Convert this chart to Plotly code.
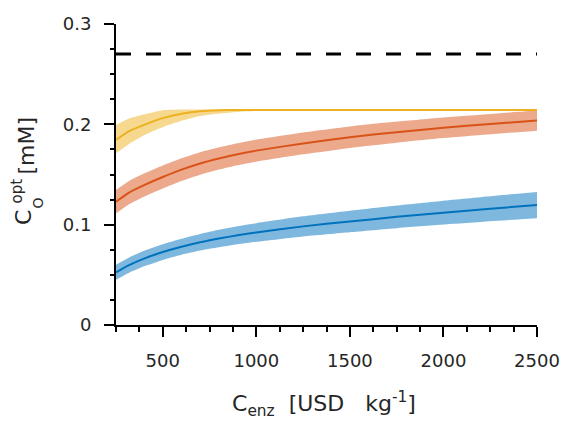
import plotly.graph_objects as go

# ---------------- data ----------------
x_cost = [250, 320, 400, 500, 600, 700, 800, 900, 1000, 1250, 1500, 1750, 2000, 2250, 2500]

blue_mid = [0.0525, 0.0597, 0.0662, 0.0727, 0.0780, 0.0825, 0.0862, 0.0894, 0.0922, 0.0983, 0.1032, 0.1078, 0.1120, 0.1159, 0.1195]
blue_lo = [0.0450, 0.0521, 0.0585, 0.0649, 0.0700, 0.0742, 0.0775, 0.0804, 0.0829, 0.0883, 0.0925, 0.0965, 0.1001, 0.1034, 0.1065]
blue_hi = [0.0600, 0.0673, 0.0739, 0.0805, 0.0860, 0.0908, 0.0949, 0.0984, 0.1015, 0.1083, 0.1139, 0.1191, 0.1239, 0.1284, 0.1325]

orange_mid = [0.1229, 0.1320, 0.1394, 0.1475, 0.1548, 0.1610, 0.1660, 0.1702, 0.1738, 0.1810, 0.1872, 0.1922, 0.1966, 0.2003, 0.2037]
orange_lo = [0.1112, 0.1204, 0.1279, 0.1361, 0.1435, 0.1498, 0.1549, 0.1592, 0.1628, 0.1701, 0.1765, 0.1817, 0.1863, 0.1902, 0.1937]
orange_hi = [0.1346, 0.1436, 0.1509, 0.1589, 0.1661, 0.1722, 0.1771, 0.1812, 0.1848, 0.1919, 0.1979, 0.2027, 0.2069, 0.2104, 0.2137]

yellow_mid = [0.1844, 0.1932, 0.1995, 0.2062, 0.2106, 0.2131, 0.2140, 0.2143, 0.2143, 0.2143, 0.2143, 0.2143, 0.2143, 0.2143, 0.2143]
yellow_lo = [0.1711, 0.1805, 0.1890, 0.1973, 0.2035, 0.2082, 0.2108, 0.2124, 0.2132, 0.2137, 0.2137, 0.2137, 0.2137, 0.2137, 0.2137]
yellow_hi = [0.1994, 0.2058, 0.2098, 0.2140, 0.2147, 0.2147, 0.2147, 0.2147, 0.2147, 0.2147, 0.2147, 0.2147, 0.2147, 0.2147, 0.2147]

limit_value = 0.27

x_ticks = [500, 1000, 1500, 2000, 2500]
x_ticklabels = ["500", "1000", "1500", "2000", "2500"]
y_ticks = [0, 0.1, 0.2, 0.3]
y_ticklabels = ["0", "0.1", "0.2", "0.3"]

# ---------------- styling ----------------
W, H = 563, 423
L, R, T, B = 116, 26, 24, 98
FONT = "DejaVu Sans, Liberation Sans, Arial, sans-serif"
TXT = "#262626"

series = [
    (blue_lo, blue_mid, blue_hi, "#0072BD", "rgba(0,114,189,0.5)"),
    (orange_lo, orange_mid, orange_hi, "#D95319", "rgba(217,83,25,0.5)"),
    (yellow_lo, yellow_mid, yellow_hi, "#EDB120", "rgba(237,177,32,0.5)"),
]

fig = go.Figure()
for lo, mid, hi, lc, fc in series:
    fig.add_trace(go.Scatter(x=x_cost, y=lo, mode="lines",
                             line=dict(width=0, shape="spline", smoothing=0.5, color=fc),
                             showlegend=False, hoverinfo="skip"))
    fig.add_trace(go.Scatter(x=x_cost, y=hi, mode="lines", fill="tonexty", fillcolor=fc,
                             line=dict(width=0, shape="spline", smoothing=0.5, color=fc),
                             showlegend=False, hoverinfo="skip"))
for lo, mid, hi, lc, fc in series:
    fig.add_trace(go.Scatter(x=x_cost, y=mid, mode="lines",
                             line=dict(width=2, color=lc, shape="spline", smoothing=0.5),
                             showlegend=False))

fig.add_trace(go.Scatter(x=[x_cost[0], x_cost[-1]], y=[limit_value, limit_value], mode="lines",
                         line=dict(color="black", width=3, dash="15px,15px"),
                         showlegend=False))

fig.update_layout(
    width=W, height=H,
    margin=dict(l=L, r=R, t=T, b=B, pad=0, autoexpand=False),
    paper_bgcolor="white", plot_bgcolor="white",
    font=dict(family=FONT, size=18, color=TXT),
    showlegend=False,
)

fig.update_xaxes(
    range=[250, 2500], showgrid=False, zeroline=False, automargin=False,
    showline=True, linecolor="black", linewidth=2,
    tickmode="array", tickvals=x_ticks, ticktext=x_ticklabels,
    ticks="outside", ticklen=10, tickwidth=2, tickcolor="black",
    tickfont=dict(family=FONT, size=18, color=TXT),
    ticklabelstandoff=8,
    minor=dict(ticks="outside", ticklen=5, tickwidth=2, tickcolor="black", dtick=125, tick0=250, showgrid=False),
)
fig.update_yaxes(
    range=[0, 0.3], showgrid=False, zeroline=False, automargin=False,
    showline=True, linecolor="black", linewidth=2,
    tickmode="array", tickvals=y_ticks, ticktext=y_ticklabels,
    ticks="outside", ticklen=10, tickwidth=2, tickcolor="black",
    tickfont=dict(family=FONT, size=18, color=TXT),
    ticklabelstandoff=9,
    minor=dict(ticks="outside", ticklen=4, tickwidth=2, tickcolor="black", dtick=0.025, tick0=0, showgrid=False),
)

pw, ph = W - L - R, H - T - B


def px(xp):
    return (xp - L) / pw


def py(yp):
    return (H - B - yp) / ph


def ann(text, xc, yc, size, angle=0):
    fig.add_annotation(text=text, x=px(xc), y=py(yc), xref="paper", yref="paper",
                       xanchor="center", yanchor="middle", showarrow=False,
                       textangle=angle, font=dict(family=FONT, size=size, color=TXT))


# x-axis title
ann("C<sub>enz</sub>&nbsp;&nbsp;[USD&nbsp;&nbsp;&nbsp;kg<sup>-1</sup>]", 324, 404, 22)
# y-axis title (stacked sub/superscript)
ann("C", 23.5, 217.5, 22, -90)
ann("opt", 16, 191.5, 15, -90)
ann("O", 37.5, 203, 14, -90)
ann("[mM]", 25.5, 146, 22, -90)

fig.write_html("out.html")
